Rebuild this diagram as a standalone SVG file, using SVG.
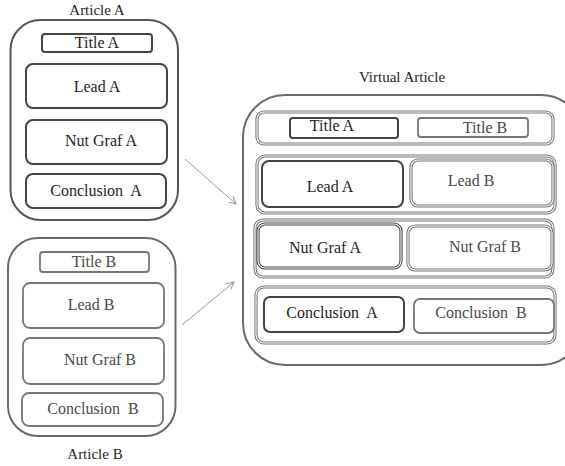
<svg xmlns="http://www.w3.org/2000/svg" width="565" height="466" viewBox="0 0 565 466" font-family="'Liberation Serif', 'DejaVu Serif', serif">
  <style>
    text { font-family: 'Liberation Serif', 'Times New Roman', 'DejaVu Serif', serif; font-size: 16px; text-anchor: middle; }
    .ta { fill: #1e1e1e; }
    .tb { fill: #4a4a4a; }
    .lbl { fill: #1e1e1e; font-size: 15px; }
    .outerA { fill: #fff; stroke: #555; stroke-width: 2; }
    .outerB { fill: #fff; stroke: #6a6a6a; stroke-width: 2; }
    .boxA { fill: #fff; stroke: #444; stroke-width: 2; }
    .boxB { fill: #fff; stroke: #777; stroke-width: 1.8; }
    .dbl { fill: #fff; stroke: #777; stroke-width: 3.2; }
    .dblgap { fill: none; stroke: #fff; stroke-width: 1.1; }
    .conn { stroke: #9a9a9a; stroke-width: 1; fill: none; marker-end: url(#openArrow); }
  </style>
  <defs>
    <marker id="openArrow" viewBox="0 0 10 10" refX="9" refY="5" markerWidth="9" markerHeight="9" markerUnits="userSpaceOnUse" orient="auto">
      <path d="M1,1 L9,5 L1,9" fill="none" stroke="#9a9a9a" stroke-width="1.2"/>
    </marker>
  </defs>

  <!-- Article A -->
  <g id="article-a">
    <text class="lbl" x="97" y="15">Article A</text>
    <rect class="outerA" x="10.5" y="20" width="167.5" height="200" rx="30"/>
    <g id="a-title"><rect class="boxA" x="42" y="34" width="110" height="18" rx="3"/><text class="ta" x="97" y="48">Title A</text></g>
    <g id="a-lead"><rect class="boxA" x="26" y="64" width="141" height="44" rx="7"/><text class="ta" x="97" y="92">Lead A</text></g>
    <g id="a-nut"><rect class="boxA" x="26" y="120" width="141" height="44" rx="7"/><text class="ta" x="101" y="146">Nut Graf A</text></g>
    <g id="a-concl"><rect class="boxA" x="26" y="174" width="140" height="34" rx="7"/><text class="ta" x="96" y="196" xml:space="preserve">Conclusion  A</text></g>
  </g>

  <!-- Article B -->
  <g id="article-b">
    <rect class="outerB" x="8" y="238" width="167.5" height="198" rx="30"/>
    <g id="b-title"><rect class="boxB" x="40" y="252" width="109" height="20" rx="3"/><text class="tb" x="94" y="267">Title B</text></g>
    <g id="b-lead"><rect class="boxB" x="23" y="283" width="141" height="45" rx="7"/><text class="tb" x="91" y="310">Lead B</text></g>
    <g id="b-nut"><rect class="boxB" x="23" y="338" width="141" height="46" rx="7"/><text class="tb" x="100" y="365">Nut Graf B</text></g>
    <g id="b-concl"><rect class="boxB" x="22" y="393" width="141" height="33" rx="7"/><text class="tb" x="93" y="414" xml:space="preserve">Conclusion  B</text></g>
    <text class="lbl" x="95" y="459">Article B</text>
  </g>

  <!-- Virtual Article -->
  <g id="virtual-article">
    <text class="lbl" x="402" y="82">Virtual Article</text>
    <rect class="outerB" x="243" y="95" width="340" height="270" rx="42"/>

    <g id="v-title-row">
      <rect class="dbl" x="257" y="112" width="296" height="32" rx="7"/>
      <rect class="dblgap" x="257" y="112" width="296" height="32" rx="7"/>
      <g id="v-title-a"><rect class="boxA" x="290" y="118" width="108" height="20" rx="3"/><text class="ta" x="332" y="131">Title A</text></g>
      <g id="v-title-b"><rect class="boxB" x="418" y="118" width="110" height="19" rx="3"/><text class="tb" x="485" y="133">Title B</text></g>
    </g>

    <g id="v-lead-row">
      <rect class="dbl" x="257" y="156" width="298" height="57" rx="8"/>
      <rect class="dblgap" x="257" y="156" width="298" height="57" rx="8"/>
      <g id="v-lead-a"><rect class="boxA" x="262" y="161" width="141" height="46" rx="7"/><text class="ta" x="330" y="192">Lead A</text></g>
      <g id="v-lead-b">
        <rect class="dbl" x="411" y="160" width="142" height="46" rx="7"/>
        <rect class="dblgap" x="411" y="160" width="142" height="46" rx="7"/>
        <text class="tb" x="471" y="186">Lead B</text>
      </g>
    </g>

    <g id="v-nut-row">
      <rect class="dbl" x="255" y="220" width="298" height="57" rx="8"/>
      <rect class="dblgap" x="255" y="220" width="298" height="57" rx="8"/>
      <g id="v-nut-a">
        <rect class="dbl" x="258" y="224" width="143" height="44" rx="7" style="stroke:#444"/>
        <rect class="dblgap" x="258" y="224" width="143" height="44" rx="7"/>
        <text class="ta" x="325" y="253">Nut Graf A</text>
      </g>
      <g id="v-nut-b">
        <rect class="dbl" x="408" y="226" width="144" height="44" rx="7"/>
        <rect class="dblgap" x="408" y="226" width="144" height="44" rx="7"/>
        <text class="tb" x="485" y="252">Nut Graf B</text>
      </g>
    </g>

    <g id="v-concl-row">
      <rect class="dbl" x="256" y="287" width="299" height="56" rx="8"/>
      <rect class="dblgap" x="256" y="287" width="299" height="56" rx="8"/>
      <g id="v-concl-a"><rect class="boxA" x="264" y="297" width="140" height="35" rx="6"/><text class="ta" x="332" y="318" xml:space="preserve">Conclusion  A</text></g>
      <g id="v-concl-b"><rect class="boxB" x="414" y="299" width="140" height="34" rx="6"/><text class="tb" x="481" y="318" xml:space="preserve">Conclusion  B</text></g>
    </g>
  </g>

  <!-- connectors -->
  <g id="connectors">
    <line class="conn" x1="185" y1="159" x2="236" y2="204"/>
    <line class="conn" x1="182" y1="325" x2="234" y2="282"/>
  </g>
</svg>
